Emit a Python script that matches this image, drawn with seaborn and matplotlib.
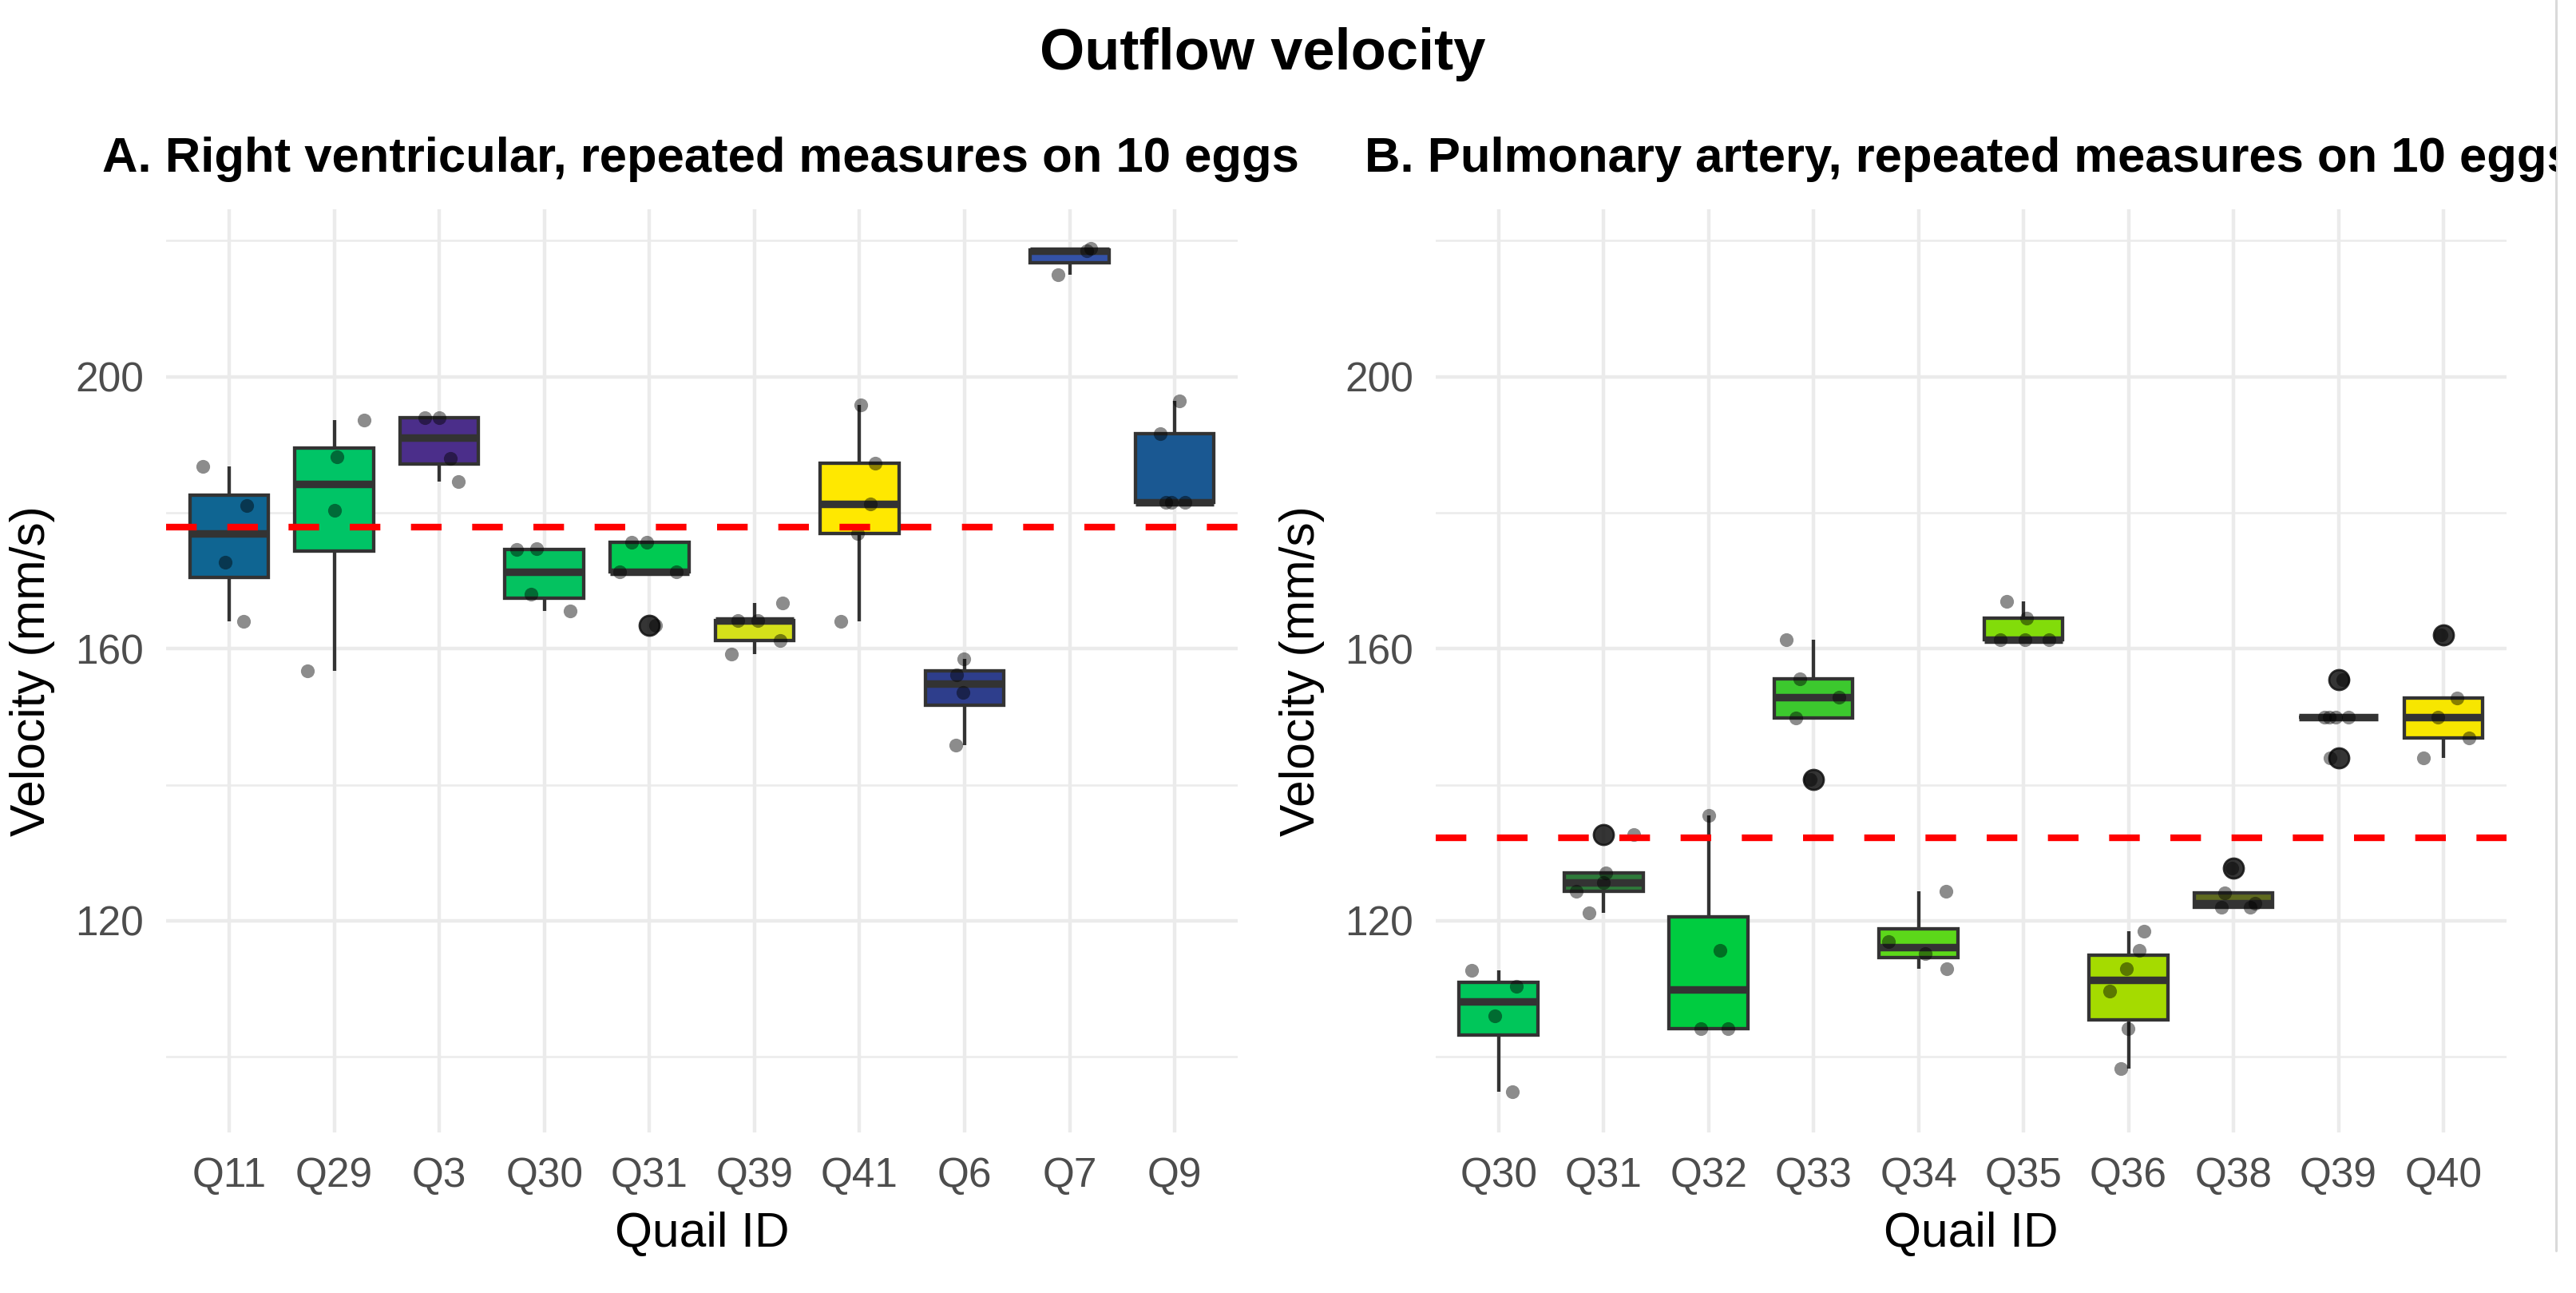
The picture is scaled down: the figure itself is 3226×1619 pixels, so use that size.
import numpy as np
import pandas as pd
import matplotlib
matplotlib.use("Agg")
import matplotlib.pyplot as plt
import seaborn as sns
from matplotlib.lines import Line2D
from matplotlib.transforms import Bbox, TransformedBbox

# A. right ventricular outflow, repeated measures per quail egg (mm/s)
rv_ids = ["Q11", "Q29", "Q3", "Q30", "Q31", "Q39", "Q41", "Q6", "Q7", "Q9"]
rv_values = [
    [186.8, 181.1, 172.7, 164.0],
    [193.6, 188.2, 180.3, 156.7],
    [194.0, 194.0, 188.0, 184.6],
    [174.7, 174.6, 168.0, 165.5],
    [175.6, 175.6, 171.3, 171.3, 163.4],
    [166.7, 164.1, 164.1, 161.2, 159.2],
    [195.8, 187.3, 181.3, 176.9, 164.0],
    [158.5, 156.2, 153.6, 145.8],
    [218.8, 218.5, 215.0],
    [196.4, 191.6, 181.5, 181.5, 181.5],
]
rv_colors = ["#0F6592", "#00C466", "#4B2E8A", "#04C260", "#00CA52",
             "#D4E01A", "#FFE800", "#2E3E8C", "#3452A6", "#1A5892"]
rv_mean = 177.9

# B. pulmonary artery outflow
pa_ids = ["Q30", "Q31", "Q32", "Q33", "Q34", "Q35", "Q36", "Q38", "Q39", "Q40"]
pa_values = [
    [112.7, 110.4, 106.0, 94.9],
    [132.7, 127.1, 125.6, 124.3, 121.2],
    [135.5, 115.6, 104.1, 104.1],
    [161.3, 155.6, 152.9, 149.8, 140.8],
    [124.3, 117.0, 115.2, 112.9],
    [166.9, 164.5, 161.3, 161.3, 161.3],
    [118.5, 115.6, 112.9, 109.7, 104.1, 98.3],
    [127.8, 124.1, 122.6, 122.0, 122.0],
    [155.5, 149.9, 149.9, 149.9, 149.9, 144.0],
    [162.0, 152.8, 149.9, 146.9, 144.0],
]
pa_colors = ["#00C65A", "#2E7A3A", "#00CC40", "#3CC82E", "#5CD81A",
             "#82DC0A", "#A5DB00", "#5F6A1F", "#C8DC10", "#F7E600"]
pa_mean = 132.2


def long_table(ids, values):
    rows = [(q, v) for q, vals in zip(ids, values) for v in vals]
    return pd.DataFrame(rows, columns=["quail", "velocity"])


sns.set_theme(style="white")
plt.rcParams["font.family"] = ["Liberation Sans", "DejaVu Sans"]
plt.rcParams["text.color"] = "black"

fig = plt.figure(figsize=(16.13, 8.095), dpi=200)
ax_a = fig.add_axes([0.0645, 0.1242, 0.416, 0.714])
ax_b = fig.add_axes([0.5573, 0.1242, 0.4157, 0.714])


def draw_panel(ax, ids, values, colors, mean_line):
    df = long_table(ids, values)
    sns.boxplot(data=df, x="quail", y="velocity", hue="quail",
                order=ids, hue_order=ids, palette=colors, legend=False,
                saturation=1, width=0.75, linewidth=1.55, linecolor="#333333",
                whis=1.5, showcaps=False, ax=ax,
                medianprops=dict(color="#333333", linewidth=3.4),
                flierprops=dict(marker="o", markersize=9, markerfacecolor="#111111",
                                markeredgecolor="#111111", alpha=0.85))
    np.random.seed(7)
    sns.stripplot(data=df, x="quail", y="velocity", order=ids, color="black",
                  alpha=0.45, size=6.2, jitter=0.3, linewidth=0, ax=ax, zorder=4)
    # dashed reference line (overall mean)
    ax.axhline(mean_line, color="#FF0000", lw=3, dashes=(4.6, 4.6), zorder=5)

    ax.set_xlim(-0.6, 9.6)
    ax.set_ylim(88.9, 224.6)
    ax.set_yticks([120, 160, 200])
    ax.set_yticks([100, 140, 180, 220], minor=True)
    ax.grid(which="major", color="#EBEBEB", lw=1.6)
    ax.grid(which="minor", axis="y", color="#EBEBEB", lw=0.9)
    ax.set_axisbelow(True)
    for s in ax.spines.values():
        s.set_visible(False)
    ax.tick_params(axis="both", which="both", length=0, labelsize=18.5,
                   labelcolor="#4D4D4D")
    ax.tick_params(axis="x", pad=11)
    ax.tick_params(axis="y", pad=10)
    ax.set_xlabel("Quail ID", fontsize=21.8, labelpad=7, color="black")
    ax.set_ylabel("Velocity (mm/s)", fontsize=21.8, labelpad=9, color="black")


draw_panel(ax_a, rv_ids, rv_values, rv_colors, rv_mean)
draw_panel(ax_b, pa_ids, pa_values, pa_colors, pa_mean)

fig.text(0.490, 0.958, "Outflow velocity", ha="center", va="center",
         fontsize=26, fontweight="bold", color="black")
fig.text(0.0397, 0.8765, "A. Right ventricular, repeated measures on 10 eggs",
         ha="left", va="center", fontsize=22.2, fontweight="bold", color="black")
title_b = fig.text(0.5297, 0.8765, "B. Pulmonary artery, repeated measures on 10 eggs",
                   ha="left", va="center", fontsize=22.2, fontweight="bold", color="black")

# the original image is cropped at its right edge, cutting the panel B title
edge = 0.9923
title_b.set_clip_on(True)
title_b.set_clip_box(TransformedBbox(Bbox([[0, 0], [edge, 1]]), fig.transFigure))
fig.add_artist(Line2D([edge, edge], [0.033, 1.0], transform=fig.transFigure,
                      color="#DADADA", lw=1.1))

fig.savefig("out.png", dpi=200)
